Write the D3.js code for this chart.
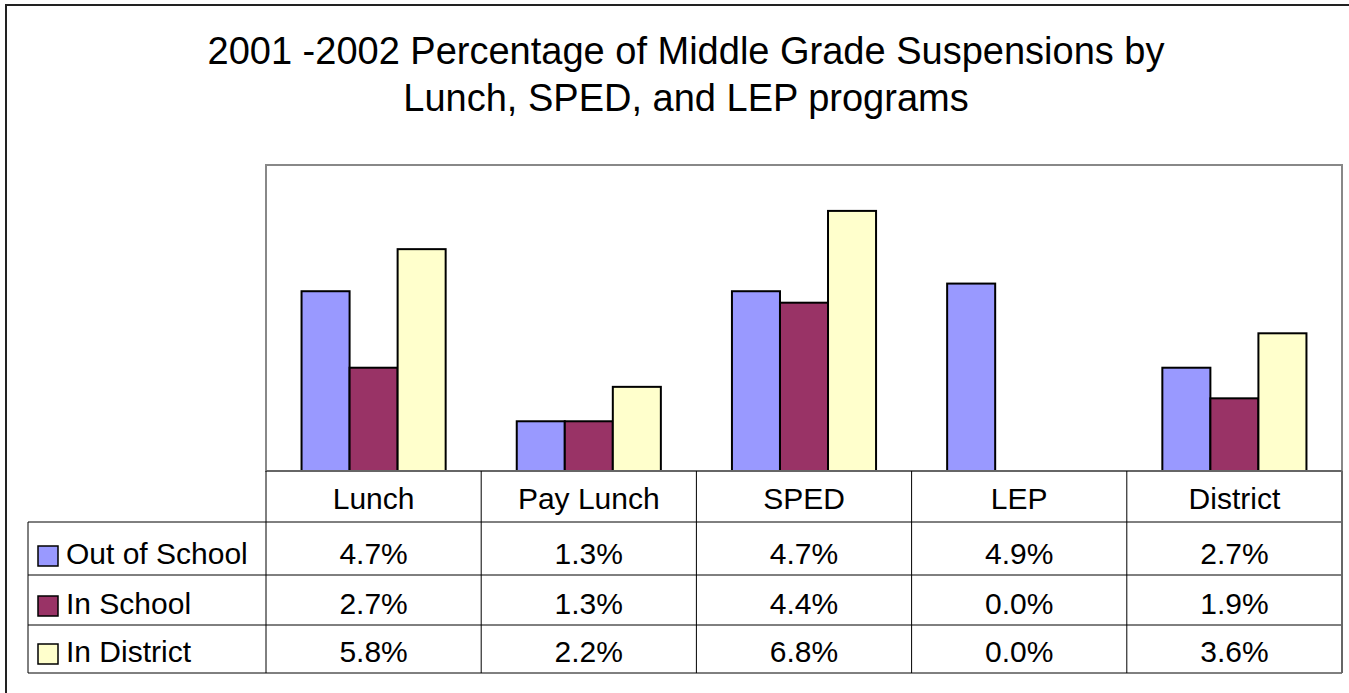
<!DOCTYPE html>
<html>
<head>
    <meta charset="utf-8" />
    <title>Middle Grade Suspensions</title>
    <script src="https://cdn.jsdelivr.net/npm/d3@7/dist/d3.min.js"></script>
    <style>
        body { margin: 0; background: #fff; }
        text { font-family: "Liberation Sans", Arial, sans-serif; fill: #000; }
    </style>
</head>
<body>
    <script>
        var categories = ["Lunch", "Pay Lunch", "SPED", "LEP", "District"];
        var seriesNames = ["Out of School", "In School", "In District"];
        var outOfSchool = [4.7, 1.3, 4.7, 4.9, 2.7];
        var inSchool = [2.7, 1.3, 4.4, 0.0, 1.9];
        var inDistrict = [5.8, 2.2, 6.8, 0.0, 3.6];
        var colors = ["#9999ff", "#993366", "#ffffcc"];

        var series = [outOfSchool, inSchool, inDistrict];

        var width = 1349;
        var height = 693;

        var plotLeft = 266, plotRight = 1342, plotTop = 165, plotBottom = 471;
        var rowH = [51, 53, 50, 48];
        var legendLeft = 28;

        var svg = d3.select("body")
            .append("svg")
            .attr("width", width)
            .attr("height", height);

        // outer chart border
        svg.append("rect")
            .attr("x", 6).attr("y", 5)
            .attr("width", width).attr("height", height)
            .attr("fill", "none")
            .attr("stroke", "#222")
            .attr("stroke-width", 2);

        // title
        var title = svg.append("text")
            .attr("text-anchor", "middle")
            .style("font-size", "38px");
        title.append("tspan").attr("x", 686).attr("y", 64).text("2001 -2002 Percentage of Middle Grade Suspensions by");
        title.append("tspan").attr("x", 686).attr("y", 111).text("Lunch, SPED, and LEP programs");

        var x0 = d3.scaleBand()
            .domain(categories)
            .range([plotLeft, plotRight])
            .paddingInner(0)
            .paddingOuter(0);

        var x1 = d3.scaleBand()
            .domain(d3.range(series.length))
            .range([0, x0.bandwidth()])
            .paddingOuter(0.74)
            .paddingInner(0);

        var y = d3.scaleLinear()
            .domain([0, 8])
            .range([plotBottom, plotTop]);

        // plot area
        svg.append("rect")
            .attr("x", plotLeft).attr("y", plotTop)
            .attr("width", plotRight - plotLeft).attr("height", plotBottom - plotTop)
            .attr("fill", "#fff")
            .attr("stroke", "#888")
            .attr("stroke-width", 2);

        // bars
        var groups = svg.selectAll(".grp")
            .data(categories).enter()
            .append("g")
            .attr("class", "grp")
            .attr("transform", function (d) { return "translate(" + x0(d) + ",0)"; });

        groups.selectAll("rect")
            .data(function (d, i) {
                return series.map(function (s, j) { return { s: j, v: s[i] }; });
            })
            .enter()
            .filter(function (d) { return d.v > 0; })
            .append("rect")
            .attr("x", function (d) { return x1(d.s); })
            .attr("y", function (d) { return y(d.v); })
            .attr("width", x1.bandwidth())
            .attr("height", function (d) { return plotBottom - y(d.v); })
            .attr("fill", function (d) { return colors[d.s]; })
            .attr("stroke", "#000")
            .attr("stroke-width", 2);

        // data table
        var tableTop = plotBottom;
        var rowY = [tableTop];
        rowH.forEach(function (h) { rowY.push(rowY[rowY.length - 1] + h); });
        var tableBottom = rowY[rowY.length - 1];

        var grid = svg.append("g")
            .attr("stroke", "#000")
            .attr("stroke-width", 1);

        // horizontal lines
        grid.append("line").attr("x1", plotLeft).attr("x2", plotRight).attr("y1", rowY[0]).attr("y2", rowY[0]).attr("stroke", "#666").attr("stroke-width", 2);
        for (var r = 1; r < rowY.length; r++) {
            grid.append("line")
                .attr("x1", legendLeft).attr("x2", plotRight)
                .attr("y1", rowY[r]).attr("y2", rowY[r]);
        }
        // vertical lines
        categories.forEach(function (c) {
            grid.append("line")
                .attr("x1", x0(c)).attr("x2", x0(c))
                .attr("y1", tableTop).attr("y2", tableBottom);
        });
        grid.append("line")
            .attr("x1", plotRight).attr("x2", plotRight)
            .attr("y1", tableTop).attr("y2", tableBottom)
            .attr("stroke", "#666").attr("stroke-width", 2);
        grid.append("line")
            .attr("x1", legendLeft).attr("x2", legendLeft)
            .attr("y1", rowY[1]).attr("y2", tableBottom);

        // category header
        svg.selectAll(".cat")
            .data(categories).enter()
            .append("text")
            .attr("class", "cat")
            .attr("x", function (d) { return x0(d) + x0.bandwidth() / 2; })
            .attr("y", rowY[1] - 13)
            .attr("text-anchor", "middle")
            .style("font-size", "30px")
            .text(function (d) { return d; });

        // rows
        series.forEach(function (s, j) {
            var base = rowY[j + 2] - 11;
            svg.append("rect")
                .attr("x", 38).attr("y", base - 18)
                .attr("width", 20).attr("height", 20)
                .attr("fill", colors[j])
                .attr("stroke", "#000")
                .attr("stroke-width", 1.5);
            svg.append("text")
                .attr("x", 66).attr("y", base)
                .style("font-size", "30px")
                .text(seriesNames[j]);
            svg.selectAll(".v" + j)
                .data(s).enter()
                .append("text")
                .attr("x", function (d, i) { return x0(categories[i]) + x0.bandwidth() / 2; })
                .attr("y", base)
                .attr("text-anchor", "middle")
                .style("font-size", "30px")
                .text(function (d) { return d3.format(".1f")(d) + "%"; });
        });
    </script>
</body>
</html>
